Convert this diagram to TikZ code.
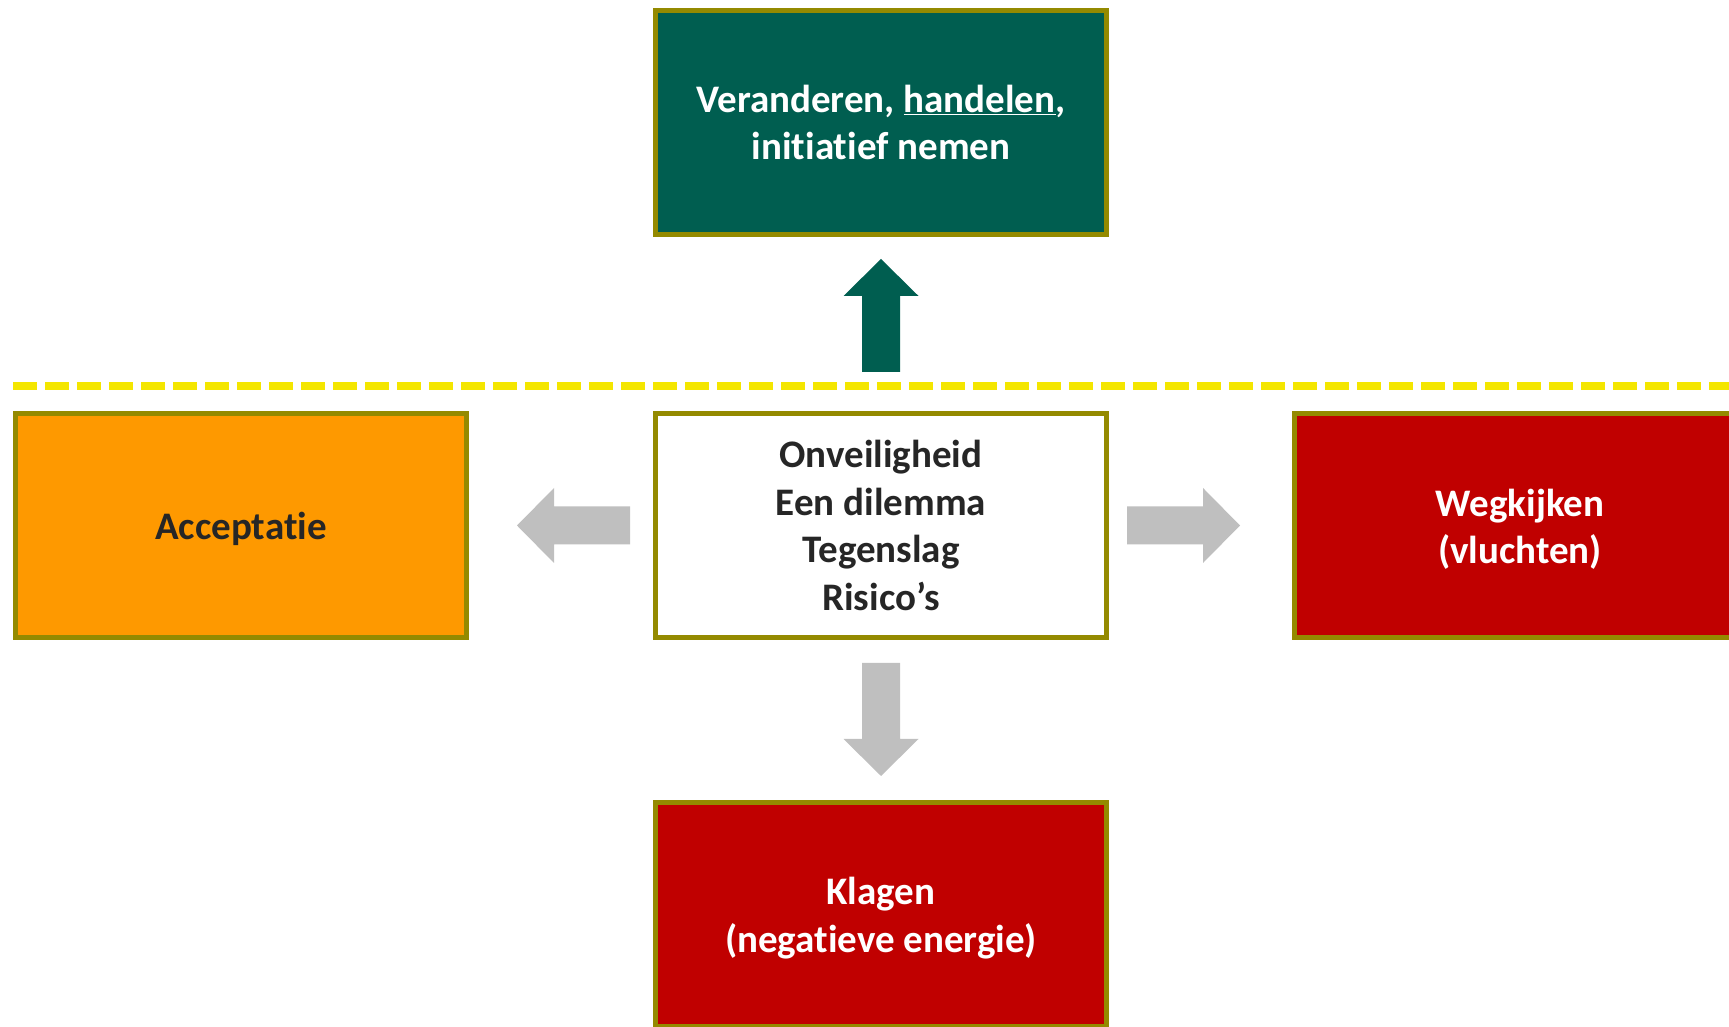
\documentclass[tikz,border=0pt]{standalone}
\usepackage{fontspec}
\setmainfont{Carlito}[Ligatures=NoCommon,RawFeature={-liga;-dlig;-clig}]
\usetikzlibrary{positioning}
\usetikzlibrary{calc}

\definecolor{oliveline}{RGB}{148,138,0}
\definecolor{actgreen}{RGB}{0,94,80}
\definecolor{accorange}{RGB}{254,153,0}
\definecolor{negred}{RGB}{192,0,0}
\definecolor{arrowgrey}{RGB}{191,191,191}
\definecolor{lineyellow}{RGB}{244,230,0}
\definecolor{darktext}{RGB}{38,38,38}

\begin{document}
\begin{tikzpicture}[
        x=1pt, y=1pt,
        pics/blockarrow/.style={code={
            \fill[#1] (0,-19) -- (76,-19) -- (76,-37.5) -- (113,0) -- (76,37.5) -- (76,19) -- (0,19) -- cycle;
        }},
        ]
        \tikzstyle{box} = [draw=oliveline, line width=5pt, minimum width=451pt, minimum height=224pt, inner sep=0pt, align=center, font={\fontsize{39}{47.6}\selectfont\bfseries}];
        \tikzstyle{dashline} = [draw=lineyellow, line width=8pt, dash pattern=on 24pt off 8pt];
        \newcommand{\hoog}{\rule{0pt}{35pt}}
        \useasboundingbox (0,0) rectangle (1729,1027);

        \node [box, fill=white, text=darktext] (situatie) at (881,501.5) {Onveiligheid\\Een dilemma\\Tegenslag\\Risico’s};
        \node [box, fill=actgreen, text=white, above=174pt of situatie] (handelen) {Veranderen, \underline{handelen},\\initiatief nemen};
        \node [box, fill=accorange, text=darktext, left=184pt of situatie] (acceptatie) {\hoog Acceptatie};
        \node [box, fill=negred, text=white, right=183pt of situatie] (wegkijken) {\hoog Wegkijken\\(vluchten)};
        \node [box, fill=negred, text=white, below=160pt of situatie] (klagen) {\hoog Klagen\\(negatieve energie)};

        % scheidslijn
        \coordinate (lijnstart) at (13,641);
        \coordinate (lijneind) at (1729,641);
        \draw [dashline] (lijnstart) -- (lijneind);

        % pijlen
        \pic [rotate=90] at ($(situatie.north)+(0,39)$) {blockarrow=actgreen};
        \pic [rotate=180] at ($(situatie.west)+(-23,0)$) {blockarrow=arrowgrey};
        \pic at ($(situatie.east)+(18,0)$) {blockarrow=arrowgrey};
        \pic [rotate=-90] at ($(situatie.south)+(0,-23)$) {blockarrow=arrowgrey};
    \end{tikzpicture}
\end{document}
